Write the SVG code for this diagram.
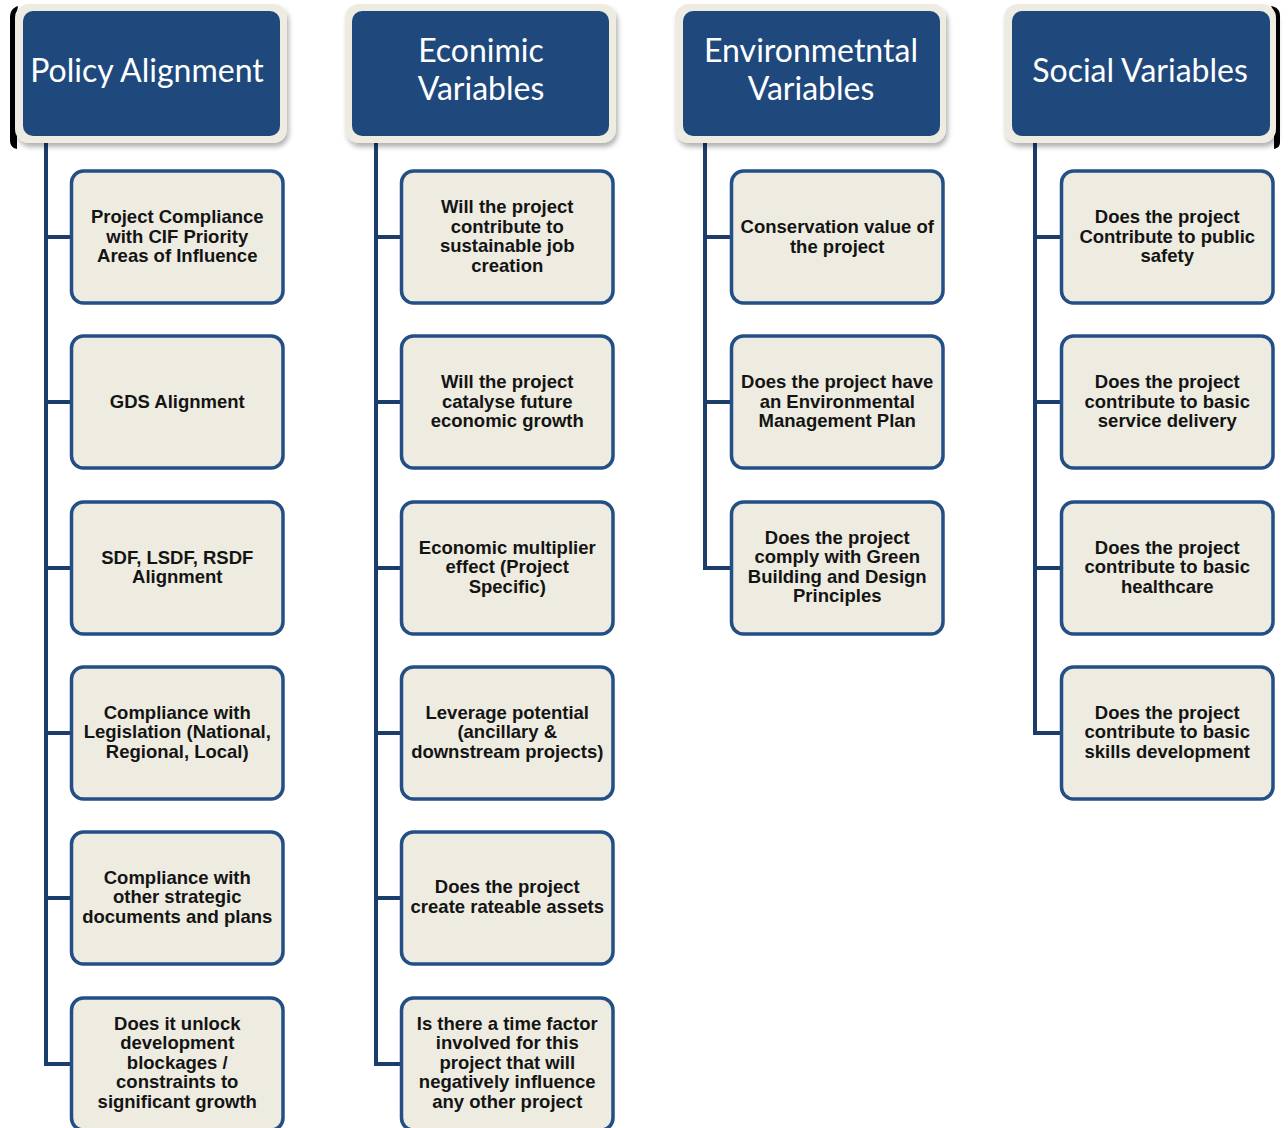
<svg xmlns="http://www.w3.org/2000/svg" width="1288" height="1128" viewBox="0 0 1288 1128">
<style>
.hdr-outer{fill:#eeece1;filter:url(#sh);}
.hdr-inner{fill:#1f497d;}
.hdr-text{font-family:Lato,"Open Sans",sans-serif;font-size:32px;fill:#ffffff;text-anchor:middle;}
.box{fill:#eeece1;stroke:#234f86;stroke-width:3.5;}
.btext{font-family:"Liberation Sans",Arial,sans-serif;font-weight:bold;font-size:18.5px;fill:#141414;text-anchor:middle;}
.conn{fill:none;stroke:#1c3d6b;stroke-width:4;}
.brk{fill:#000000;}
</style>
<defs>
<filter id="sh" x="-10%" y="-10%" width="125%" height="130%">
<feDropShadow dx="2" dy="4" stdDeviation="2.5" flood-color="#000000" flood-opacity="0.3"/>
</filter>
</defs>
<rect width="1288" height="1128" fill="#ffffff"/>

<!-- black bracket edges -->
<path class="brk" d="M18 6 C12 8 10 12 10 18 L10 140 C10 145 12 148 17 149 L17 140 L17 12 Z"/>
<path class="brk" d="M1271 6 C1277 7 1280 10 1280 16 L1280 142 C1280 146 1278 148 1274 149 L1274 142 L1274 12 Z"/>

<g id="connectors">
<path class="conn" d="M46 139 V1064 H71"/>
<path class="conn" d="M46 237 H71 M46 402 H71 M46 568 H71 M46 733 H71 M46 898 H71"/>
<path class="conn" d="M376 139 V1064 H401"/>
<path class="conn" d="M376 237 H401 M376 402 H401 M376 568 H401 M376 733 H401 M376 898 H401"/>
<path class="conn" d="M705 139 V568 H731"/>
<path class="conn" d="M705 237 H731 M705 402 H731"/>
<path class="conn" d="M1035 139 V733 H1061"/>
<path class="conn" d="M1035 237 H1061 M1035 402 H1061 M1035 568 H1061"/>
</g>

<!-- headers -->
<g id="h-policy">
<rect class="hdr-outer" x="15" y="4" width="272" height="139" rx="14"/>
<rect class="hdr-inner" x="23" y="11" width="257" height="125" rx="10"/>
<text class="hdr-text" x="147" y="82">Policy Alignment</text>
</g>
<g id="h-economic">
<rect class="hdr-outer" x="345" y="4" width="271" height="139" rx="14"/>
<rect class="hdr-inner" x="352" y="11" width="257" height="125" rx="10"/>
<text class="hdr-text" x="481" y="62">Econimic</text>
<text class="hdr-text" x="481" y="100">Variables</text>
</g>
<g id="h-environmental">
<rect class="hdr-outer" x="675" y="4" width="271" height="139" rx="14"/>
<rect class="hdr-inner" x="683" y="11" width="257" height="125" rx="10"/>
<text class="hdr-text" x="811" y="62">Environmetntal</text>
<text class="hdr-text" x="811" y="100">Variables</text>
</g>
<g id="h-social">
<rect class="hdr-outer" x="1004" y="4" width="272" height="139" rx="14"/>
<rect class="hdr-inner" x="1012" y="11" width="258" height="125" rx="10"/>
<text class="hdr-text" x="1140" y="82">Social Variables</text>
</g>

<!-- column 1 -->
<g id="p1"><rect class="box" x="71.5" y="171" width="211.5" height="132" rx="12"/>
<text class="btext" y="223"><tspan x="177.25">Project Compliance</tspan><tspan x="177.25" dy="19.5">with CIF Priority</tspan><tspan x="177.25" dy="19.5">Areas of Influence</tspan></text></g>
<g id="p2"><rect class="box" x="71.5" y="336" width="211.5" height="132" rx="12"/>
<text class="btext" y="407.5"><tspan x="177.25">GDS Alignment</tspan></text></g>
<g id="p3"><rect class="box" x="71.5" y="502" width="211.5" height="132" rx="12"/>
<text class="btext" y="563.75"><tspan x="177.25">SDF, LSDF, RSDF</tspan><tspan x="177.25" dy="19.5">Alignment</tspan></text></g>
<g id="p4"><rect class="box" x="71.5" y="667" width="211.5" height="132" rx="12"/>
<text class="btext" y="718.5"><tspan x="177.25">Compliance with</tspan><tspan x="177.25" dy="19.5">Legislation (National,</tspan><tspan x="177.25" dy="19.5">Regional, Local)</tspan></text></g>
<g id="p5"><rect class="box" x="71.5" y="832" width="211.5" height="132" rx="12"/>
<text class="btext" y="883.5"><tspan x="177.25">Compliance with</tspan><tspan x="177.25" dy="19.5">other strategic</tspan><tspan x="177.25" dy="19.5">documents and plans</tspan></text></g>
<g id="p6"><rect class="box" x="71.5" y="998" width="211.5" height="132" rx="12"/>
<text class="btext" y="1029.5"><tspan x="177.25">Does it unlock</tspan><tspan x="177.25" dy="19.5">development</tspan><tspan x="177.25" dy="19.5">blockages /</tspan><tspan x="177.25" dy="19.5">constraints to</tspan><tspan x="177.25" dy="19.5">significant growth</tspan></text></g>

<!-- column 2 -->
<g id="e1"><rect class="box" x="401.5" y="171" width="211.5" height="132" rx="12"/>
<text class="btext" y="213.25"><tspan x="507.25">Will the project</tspan><tspan x="507.25" dy="19.5">contribute to</tspan><tspan x="507.25" dy="19.5">sustainable job</tspan><tspan x="507.25" dy="19.5">creation</tspan></text></g>
<g id="e2"><rect class="box" x="401.5" y="336" width="211.5" height="132" rx="12"/>
<text class="btext" y="388"><tspan x="507.25">Will the project</tspan><tspan x="507.25" dy="19.5">catalyse future</tspan><tspan x="507.25" dy="19.5">economic growth</tspan></text></g>
<g id="e3"><rect class="box" x="401.5" y="502" width="211.5" height="132" rx="12"/>
<text class="btext" y="553.5"><tspan x="507.25">Economic multiplier</tspan><tspan x="507.25" dy="19.5">effect (Project</tspan><tspan x="507.25" dy="19.5">Specific)</tspan></text></g>
<g id="e4"><rect class="box" x="401.5" y="667" width="211.5" height="132" rx="12"/>
<text class="btext" y="718.5"><tspan x="507.25">Leverage potential</tspan><tspan x="507.25" dy="19.5">(ancillary &amp;</tspan><tspan x="507.25" dy="19.5">downstream projects)</tspan></text></g>
<g id="e5"><rect class="box" x="401.5" y="832" width="211.5" height="132" rx="12"/>
<text class="btext" y="893"><tspan x="507.25">Does the project</tspan><tspan x="507.25" dy="19.5">create rateable assets</tspan></text></g>
<g id="e6"><rect class="box" x="401.5" y="998" width="211.5" height="132" rx="12"/>
<text class="btext" y="1029.5"><tspan x="507.25">Is there a time factor</tspan><tspan x="507.25" dy="19.5">involved for this</tspan><tspan x="507.25" dy="19.5">project that will</tspan><tspan x="507.25" dy="19.5">negatively influence</tspan><tspan x="507.25" dy="19.5">any other project</tspan></text></g>

<!-- column 3 -->
<g id="v1"><rect class="box" x="731.5" y="171" width="211.5" height="132" rx="12"/>
<text class="btext" y="233"><tspan x="837.25">Conservation value of</tspan><tspan x="837.25" dy="19.5">the project</tspan></text></g>
<g id="v2"><rect class="box" x="731.5" y="336" width="211.5" height="132" rx="12"/>
<text class="btext" y="388"><tspan x="837.25">Does the project have</tspan><tspan x="837.25" dy="19.5">an Environmental</tspan><tspan x="837.25" dy="19.5">Management Plan</tspan></text></g>
<g id="v3"><rect class="box" x="731.5" y="502" width="211.5" height="132" rx="12"/>
<text class="btext" y="543.75"><tspan x="837.25">Does the project</tspan><tspan x="837.25" dy="19.5">comply with Green</tspan><tspan x="837.25" dy="19.5">Building and Design</tspan><tspan x="837.25" dy="19.5">Principles</tspan></text></g>

<!-- column 4 -->
<g id="s1"><rect class="box" x="1061.5" y="171" width="211.5" height="132" rx="12"/>
<text class="btext" y="223"><tspan x="1167.25">Does the project</tspan><tspan x="1167.25" dy="19.5">Contribute to public</tspan><tspan x="1167.25" dy="19.5">safety</tspan></text></g>
<g id="s2"><rect class="box" x="1061.5" y="336" width="211.5" height="132" rx="12"/>
<text class="btext" y="388"><tspan x="1167.25">Does the project</tspan><tspan x="1167.25" dy="19.5">contribute to basic</tspan><tspan x="1167.25" dy="19.5">service delivery</tspan></text></g>
<g id="s3"><rect class="box" x="1061.5" y="502" width="211.5" height="132" rx="12"/>
<text class="btext" y="553.5"><tspan x="1167.25">Does the project</tspan><tspan x="1167.25" dy="19.5">contribute to basic</tspan><tspan x="1167.25" dy="19.5">healthcare</tspan></text></g>
<g id="s4"><rect class="box" x="1061.5" y="667" width="211.5" height="132" rx="12"/>
<text class="btext" y="718.5"><tspan x="1167.25">Does the project</tspan><tspan x="1167.25" dy="19.5">contribute to basic</tspan><tspan x="1167.25" dy="19.5">skills development</tspan></text></g>
</svg>
